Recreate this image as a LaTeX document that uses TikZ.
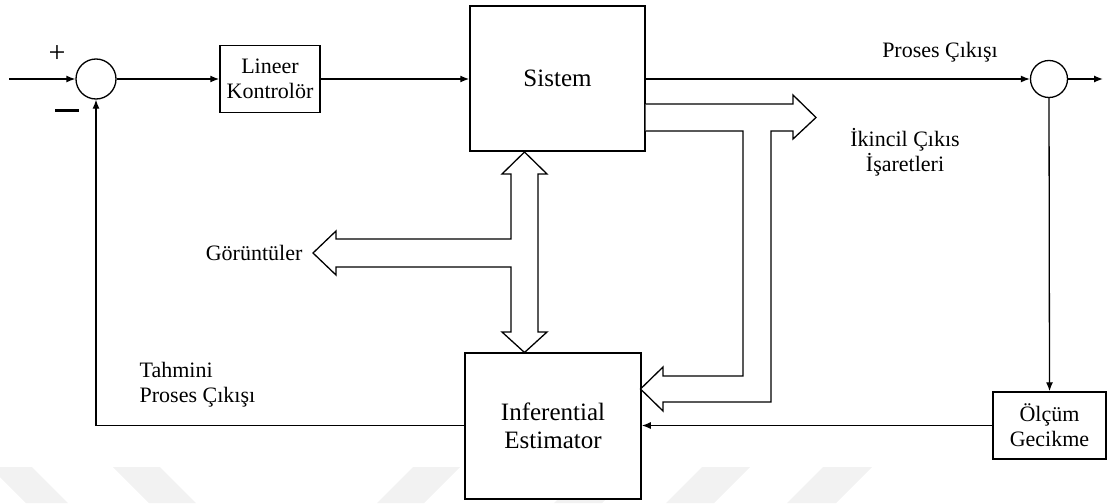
\documentclass[tikz,border=0pt]{standalone}
\usepackage{fontspec}
\setmainfont{Liberation Serif}
\usetikzlibrary{arrows.meta}
\begin{document}
\begin{tikzpicture}[x=1pt,y=-1pt,line width=1.3pt,
  box/.style={draw,fill=white,line width=1.5pt,inner sep=0pt,align=center,font=\fontsize{22}{25}\selectfont},
  bigbox/.style={box,font=\fontsize{25}{28}\selectfont},
  sumnode/.style={draw,circle,fill=white,line width=1.3pt,inner sep=0pt},
  arr/.style={-{Latex[length=9pt,width=7pt]}},
  lbl/.style={font=\fontsize{22}{25}\selectfont,inner sep=0pt},
  wm/.style={fill=black!5,draw=none},
  fat/.style={draw,line width=1.3pt,line join=miter,fill=white}]
\useasboundingbox (0,0) rectangle (1107,503);
% watermark
\fill[wm] (-10,467) -- (32,467) -- (68,503) -- (26,503) -- cycle;
\fill[wm] (113,467) -- (160,467) -- (196,503) -- (149,503) -- cycle;
\fill[wm] (413,467) -- (460,467) -- (424,503) -- (377,503) -- cycle;
\fill[wm] (590,467) -- (638,467) -- (602,503) -- (554,503) -- cycle;
\fill[wm] (702,467) -- (750,467) -- (714,503) -- (666,503) -- cycle;
\fill[wm] (823,467) -- (872,467) -- (836,503) -- (787,503) -- cycle;
% nodes
\node[sumnode,minimum size=40pt] (s1) at (96,79) {};
\node[box,minimum width=100pt,minimum height=67pt] (lin) at (270,79) {Lineer\\Kontrolör};
\node[bigbox,minimum width=175pt,minimum height=145pt] (sys) at (557.5,78.5) {Sistem};
\node[bigbox,minimum width=176pt,minimum height=146pt] (est) at (553,426) {Inferential\\Estimator};
\node[sumnode,minimum size=37pt] (s2) at (1049,79) {};
\node[box,minimum width=113pt,minimum height=67pt] (olc) at (1049.5,425.5) {Ölçüm\\Gecikme};
\coordinate (in) at (9,79);
\coordinate (out) at (1103,79);
\coordinate (dtop) at (524.5,152);
\coordinate (dbot) at (524.5,352.5);
\coordinate (rtip) at (640.5,389);
% fat arrows
\draw[fat] (dtop) -- (547,174) -- (538,174) -- (538,332) -- (547,332) -- (dbot) -- (502,332) -- (511,332)
  -- (511,267) -- (336,267) -- (336,275) -- (313,253) -- (336,231) -- (336,239) -- (511,239) -- (511,174) -- (502,174) -- cycle;
\draw[fat] (645.5,104) -- (793,104) -- (793,95) -- (816,117.5) -- (793,139) -- (793,131) -- (771,131) -- (771,402) -- (663,402)
  -- (663,411) -- (rtip) -- (663,367) -- (663,376) -- (743,376) -- (743,131) -- (645.5,131);
% connectors
\draw[arr] (in) -- (s1.west);
\draw[arr] (s1) -- (lin);
\draw[arr] (lin) -- (sys.west |- lin);
\draw[arr] (sys.east |- s2) -- (s2.west);
\draw[arr] (s2) -- (out);
\draw[arr] (s2.south) -- (olc.north);
\draw[arr] (olc.west) -- (est.east |- olc.west);
\draw[arr] (est.west |- olc.west) -| (s1.south);
% labels
\node[font=\fontsize{30}{30}\selectfont,inner sep=0pt] (plus) at (57,54) {+};
\node[fill=black,inner sep=0pt,minimum width=24pt,minimum height=3pt] (minus) at (67,110) {};
\node[lbl] (pc) at (940,52) {Proses Çıkışı};
\node[lbl,align=center] (ik) at (905,152) {İkincil Çıkıs\\İşaretleri};
\node[lbl,anchor=east] (gor) at (303,253) {Görüntüler};
\node[lbl,align=left,anchor=west] (tah) at (139,385) {Tahmini\\Proses Çıkışı};
\end{tikzpicture}
\end{document}
